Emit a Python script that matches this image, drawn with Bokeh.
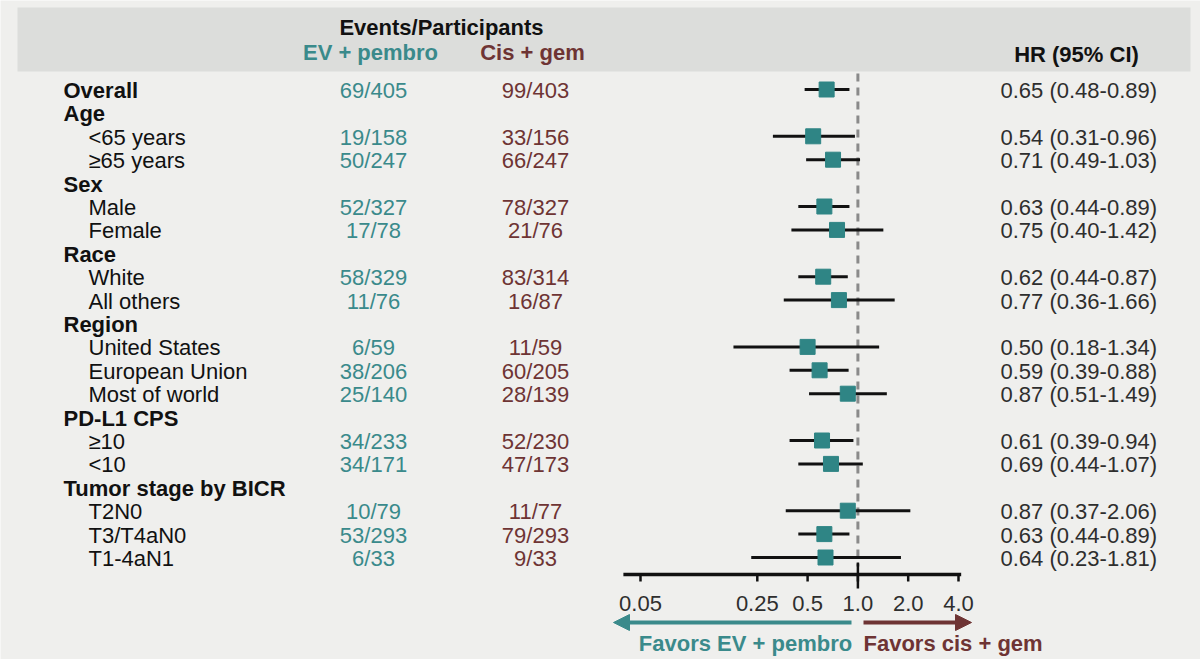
import math
from bokeh.plotting import figure
from bokeh.models import Range1d, LinearScale, Arrow, NormalHead
from bokeh.core.properties import value
from bokeh.embed import file_html
from bokeh.resources import INLINE

# ---------------- data ----------------
LABELS = ["Overall", "Age", "<65 years", "\u226565 years", "Sex", "Male", "Female",
          "Race", "White", "All others", "Region", "United States", "European Union",
          "Most of world", "PD-L1 CPS", "\u226510", "<10", "Tumor stage by BICR",
          "T2N0", "T3/T4aN0", "T1-4aN1"]
BOLD = [True, True, False, False, True, False, False, True, False, False, True,
        False, False, False, True, False, False, True, False, False, False]
EV_PEMBRO = ["69/405", None, "19/158", "50/247", None, "52/327", "17/78", None,
             "58/329", "11/76", None, "6/59", "38/206", "25/140", None, "34/233",
             "34/171", None, "10/79", "53/293", "6/33"]
CIS_GEM = ["99/403", None, "33/156", "66/247", None, "78/327", "21/76", None,
           "83/314", "16/87", None, "11/59", "60/205", "28/139", None, "52/230",
           "47/173", None, "11/77", "79/293", "9/33"]
HR = [0.65, None, 0.54, 0.71, None, 0.63, 0.75, None, 0.62, 0.77, None, 0.50, 0.59,
      0.87, None, 0.61, 0.69, None, 0.87, 0.63, 0.64]
CI_LO = [0.48, None, 0.31, 0.49, None, 0.44, 0.40, None, 0.44, 0.36, None, 0.18, 0.39,
         0.51, None, 0.39, 0.44, None, 0.37, 0.44, 0.23]
CI_HI = [0.89, None, 0.96, 1.03, None, 0.89, 1.42, None, 0.87, 1.66, None, 1.34, 0.88,
         1.49, None, 0.94, 1.07, None, 2.06, 0.89, 1.81]
TICKS = [0.05, 0.25, 0.5, 1.0, 2.0, 4.0]
TICK_LABELS = ["0.05", "0.25", "0.5", "1.0", "2.0", "4.0"]
AXIS_START, AXIS_END = 0.0395, 4.15

# ---------------- style / layout ----------------
W, H = 1200, 659
BG = "#efefed"
BAND = "#dcdddb"
TEAL = "#3a8a8b"
TEAL_MARK = "#2f8585"
BROWN = "#6e3434"
BLACK = "#111111"
GREY_TXT = "#2e2e2e"
FONT = "Liberation Sans"
FS = "22px"

ROW_Y0, ROW_STEP = 90, 23.4
LABEL_X, SUB_X = 63, 88
EV_X, CIS_X, HR_X = 373, 535, 1000
TICK_PX_LO, TICK_PX_HI = 640, 958          # pixel positions of 0.05 and 4.0
px_per_log2 = (TICK_PX_HI - TICK_PX_LO) / math.log2(TICKS[-1] / TICKS[0])
x_lo = TICKS[0] * 2 ** (-TICK_PX_LO / px_per_log2)
x_hi = TICKS[-1] * 2 ** ((W - TICK_PX_HI) / px_per_log2)

p = figure(width=W, height=H, x_axis_type="log", x_range=Range1d(x_lo, x_hi),
           y_range=Range1d(H, 0), x_axis_location=None, y_axis_location=None,
           toolbar_location=None, output_backend="svg", min_border=0,
           background_fill_color=BG, border_fill_color=BG, outline_line_color=None)
p.extra_x_ranges = {"px": Range1d(0, W)}
p.extra_x_scales = {"px": LinearScale()}
for g in p.grid:
    g.visible = False

rows_y = [ROW_Y0 + ROW_STEP * i for i in range(len(LABELS))]

# header band
p.quad(left=[17], right=[1190], top=[7], bottom=[71], x_range_name="px",
       fill_color=BAND, line_color=None)

def txt(xs, ys, texts, color, bold=False, align="left", size=FS):
    p.text(x=xs, y=ys, text=texts, x_range_name="px", text_font=value(FONT),
           text_font_size=size, text_font_style="bold" if bold else "normal",
           text_color=color, text_align=align, text_baseline="middle")

# header texts
txt([441], [27], ["Events/Participants"], BLACK, bold=True, align="center")
txt([370], [52], ["EV + pembro"], TEAL, bold=True, align="center")
txt([532], [52], ["Cis + gem"], BROWN, bold=True, align="center")
txt([1076], [54], ["HR (95% CI)"], BLACK, bold=True, align="center")

# row labels
bl = [(l, y) for l, y, b in zip(LABELS, rows_y, BOLD) if b]
nl = [(l, y) for l, y, b in zip(LABELS, rows_y, BOLD) if not b]
txt([LABEL_X] * len(bl), [y for _, y in bl], [l for l, _ in bl], BLACK, bold=True)
txt([SUB_X] * len(nl), [y for _, y in nl], [l for l, _ in nl], BLACK)

# event columns
ev = [(t, y) for t, y in zip(EV_PEMBRO, rows_y) if t]
cg = [(t, y) for t, y in zip(CIS_GEM, rows_y) if t]
txt([EV_X] * len(ev), [y for _, y in ev], [t for t, _ in ev], TEAL, align="center")
txt([CIS_X] * len(cg), [y for _, y in cg], [t for t, _ in cg], BROWN, align="center")

# forest data
idx = [i for i, h in enumerate(HR) if h is not None]
fy = [rows_y[i] - 1 for i in idx]
fhr = [HR[i] for i in idx]
flo = [CI_LO[i] for i in idx]
fhi = [CI_HI[i] for i in idx]
hr_txt = [f"{HR[i]:.2f} ({CI_LO[i]:.2f}-{CI_HI[i]:.2f})" for i in idx]
txt([HR_X] * len(idx), [rows_y[i] for i in idx], hr_txt, GREY_TXT)

# reference line at HR = 1
p.segment(x0=[1.0], x1=[1.0], y0=[73], y1=[566], line_color="#8a8a8a",
          line_width=3, line_dash="8 6")
p.segment(x0=[1.0], x1=[1.0], y0=[562], y1=[588], line_color=BLACK, line_width=2.5)

p.segment(x0=flo, x1=fhi, y0=fy, y1=fy, line_color=BLACK, line_width=3)
p.scatter(x=fhr, y=fy, marker="square", size=15, fill_color=TEAL_MARK,
          line_color=TEAL_MARK)

# x axis (log scale)
p.segment(x0=[AXIS_START], x1=[AXIS_END], y0=[574], y1=[574], line_color=BLACK,
          line_width=3.5)
p.segment(x0=TICKS, x1=TICKS, y0=[574] * len(TICKS), y1=[581] * len(TICKS),
          line_color=BLACK, line_width=2.5)
p.text(x=TICKS, y=[603] * len(TICKS), text=TICK_LABELS, text_font=value(FONT),
       text_font_size=FS, text_color=GREY_TXT, text_align="center",
       text_baseline="middle")

# favour arrows
p.add_layout(Arrow(x_start=851, y_start=622, x_end=613, y_end=622, x_range_name="px",
                   line_color=TEAL, line_width=4,
                   end=NormalHead(size=16, fill_color=TEAL, line_color=TEAL)))
p.add_layout(Arrow(x_start=863, y_start=622, x_end=971, y_end=622, x_range_name="px",
                   line_color=BROWN, line_width=4,
                   end=NormalHead(size=16, fill_color=BROWN, line_color=BROWN)))
txt([745], [643], ["Favors EV + pembro"], TEAL, bold=True, align="center")
txt([863], [643], ["Favors cis + gem"], BROWN, bold=True, align="left")

open("out.html", "w").write(file_html(p, INLINE))
